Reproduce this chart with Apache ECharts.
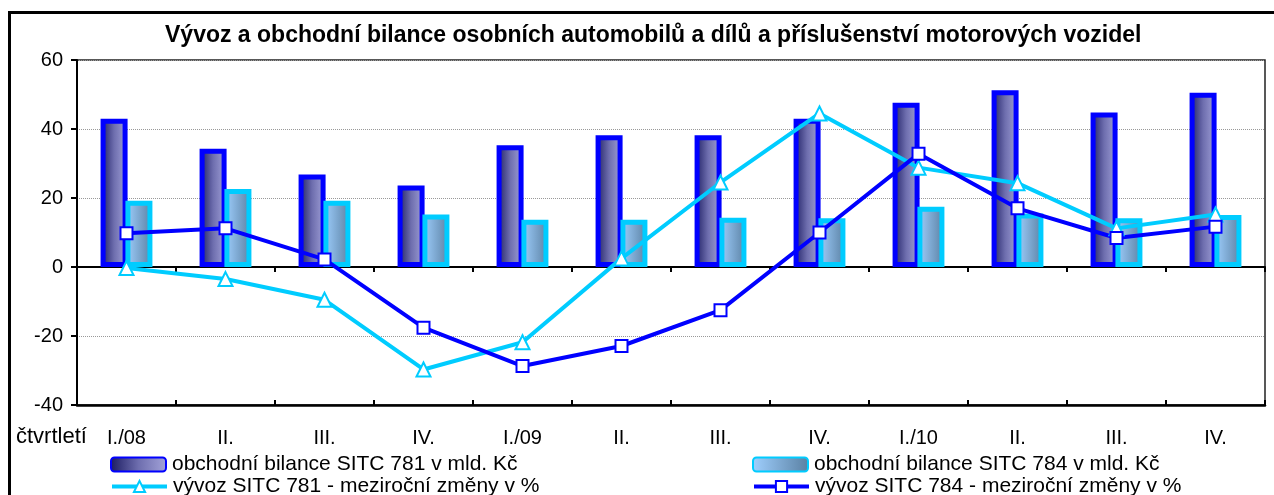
<!DOCTYPE html>
<html lang="cs">

<head>
    <meta charset="UTF-8">
    <title>Vývoz a obchodní bilance</title>
    <script src="https://cdn.jsdelivr.net/npm/echarts@6/dist/echarts.min.js"></script>
    <style>
        * {
            margin: 0;
            padding: 0;
        }

        #chart {
            width: 1274px;
            height: 495px;
            background: #fff;
        }
    </style>
</head>

<body>
    <div id="chart"></div>
    <script>
        // ---------------- data ----------------
        const quarters = ['I./08', 'II.', 'III.', 'IV.', 'I./09', 'II.', 'III.', 'IV.', 'I./10', 'II.', 'III.', 'IV.']
        const bilance781 = [43.0, 34.3, 26.8, 23.6, 35.3, 38.2, 38.2, 43.0, 47.6, 51.2, 44.8, 50.5]
        const bilance784 = [19.2, 22.6, 19.2, 15.2, 13.7, 13.7, 14.3, 14.1, 17.5, 15.5, 14.1, 15.1]
        const vyvoz781 = [-0.3, -3.5, -9.5, -29.7, -21.8, 2.5, 24.5, 44.5, 28.8, 24.3, 11.2, 15.2]
        const vyvoz784 = [9.8, 11.2, 2.2, -17.6, -28.7, -22.9, -12.5, 10.0, 32.8, 17.0, 8.4, 11.7]
        const yTicks = { min: -40, max: 60, interval: 20 }

        const names = [
            'obchodní bilance SITC 781 v mld. Kč',
            'obchodní bilance SITC 784 v mld. Kč',
            'vývoz SITC 781 - meziroční změny v %',
            'vývoz SITC 784 - meziroční změny v %'
        ]

        const font = 'Arial, "Liberation Sans", sans-serif'

        const chart = echarts.init(document.querySelector('#chart'))

        const darkFill = new echarts.graphic.LinearGradient(0, 0, 1, 0, [
            { offset: 0, color: '#1a1a60' },
            { offset: 0.5, color: '#6e6eae' },
            { offset: 1, color: '#a4a4da' }
        ])
        const lightFill = new echarts.graphic.LinearGradient(0, 0, 1, 0, [
            { offset: 0, color: '#a0d0ff' },
            { offset: 1, color: '#5a80a2' }
        ])

        // one legend per item, so each sits where it is in the picture
        function legendAt(name, left, top) {
            return {
                data: [name],
                left: left,
                top: top,
                padding: 0,
                itemWidth: 55,
                itemHeight: 14,
                itemGap: 0,
                lineStyle: { width: 4 },
                textStyle: { fontFamily: font, fontSize: 21, color: '#000', padding: [0, 0, 0, 1] }
            }
        }

        const option = {
            animation: false,
            title: {
                text: 'Vývoz a obchodní bilance osobních automobilů a dílů a příslušenství motorových vozidel',
                left: 165,
                top: 24,
                padding: 0,
                textStyle: { fontFamily: font, fontSize: 23, fontWeight: 'bold', color: '#000' }
            },
            grid: {
                left: 77,
                right: 9,
                top: 60,
                bottom: 90,
                show: true,
                borderColor: '#222',
                borderWidth: 1.5
            },
            legend: [
                legendAt(names[0], 110, 454),
                legendAt(names[2], 110, 476),
                legendAt(names[1], 752, 454),
                legendAt(names[3], 752, 476)
            ],
            xAxis: [
                {
                    type: 'category',
                    data: quarters,
                    axisLine: { onZero: true, lineStyle: { color: '#000', width: 2 } },
                    axisTick: { show: true, length: 5, lineStyle: { color: '#000', width: 2 } },
                    axisLabel: { show: false }
                },
                {
                    type: 'category',
                    data: quarters,
                    position: 'bottom',
                    axisLine: { show: false, onZero: true },
                    axisTick: { show: true, inside: true, length: 5, lineStyle: { color: '#000', width: 2 } },
                    axisLabel: { show: false }
                },
                {
                    type: 'category',
                    data: quarters,
                    position: 'bottom',
                    axisLine: { show: true, onZero: false, lineStyle: { color: '#000', width: 2.5 } },
                    axisTick: { show: false },
                    axisLabel: { fontFamily: font, fontSize: 20, color: '#000', margin: 23 }
                }
            ],
            yAxis: {
                type: 'value',
                min: yTicks.min,
                max: yTicks.max,
                interval: yTicks.interval,
                axisLine: { show: true, lineStyle: { color: '#000', width: 2 } },
                axisTick: { show: true, length: 6, lineStyle: { color: '#000', width: 2 } },
                axisLabel: { fontFamily: font, fontSize: 20, color: '#000', margin: 14 },
                splitLine: { lineStyle: { color: '#999', type: 'dotted', width: 1 } }
            },
            graphic: [
                {
                    type: 'polyline',
                    shape: { points: [[9.5, 500], [9.5, 12.5], [1280, 12.5]] },
                    style: { stroke: '#000', lineWidth: 3, fill: null }
                },
                {
                    type: 'text',
                    left: 16,
                    top: 426,
                    style: { text: 'čtvrtletí', font: '22px ' + font, fill: '#000' }
                }
            ],
            series: [
                {
                    name: names[0],
                    type: 'bar',
                    data: bilance781,
                    barWidth: 27,
                    barGap: '-8%',
                    itemStyle: { color: darkFill, borderColor: '#0000ff', borderWidth: 5 }
                },
                {
                    name: names[1],
                    type: 'bar',
                    data: bilance784,
                    barWidth: 27,
                    itemStyle: { color: lightFill, borderColor: '#00ccff', borderWidth: 5 }
                },
                {
                    name: names[2],
                    type: 'line',
                    data: vyvoz781,
                    symbol: 'triangle',
                    symbolSize: 14,
                    lineStyle: { color: '#00ccff', width: 4 },
                    itemStyle: { color: '#fff', borderColor: '#00ccff', borderWidth: 2 }
                },
                {
                    name: names[3],
                    type: 'line',
                    data: vyvoz784,
                    symbol: 'rect',
                    symbolSize: 12,
                    lineStyle: { color: '#0000ff', width: 4 },
                    itemStyle: { color: '#fff', borderColor: '#0000ff', borderWidth: 2 }
                }
            ]
        }

        chart.setOption(option)
    </script>
</body>

</html>
